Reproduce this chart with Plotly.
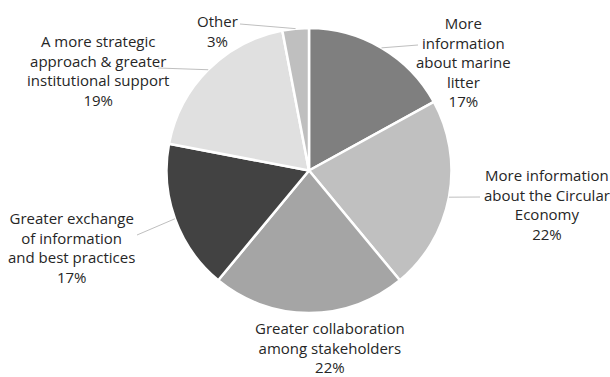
import math
import plotly.graph_objects as go

# Survey answers, in clockwise order starting at 12 o'clock
labels = [
    "More information about marine litter",
    "More information about the Circular Economy",
    "Greater collaboration among stakeholders",
    "Greater exchange of information and best practices",
    "A more strategic approach & greater institutional support",
    "Other",
]
shares = [17, 22, 22, 17, 19, 3]

# Wrapped label text as it is printed around the pie
label_lines = [
    ["More", "information", "about marine", "litter"],
    ["More information", "about the Circular", "Economy"],
    ["Greater collaboration", "among stakeholders"],
    ["Greater exchange", "of information", "and best practices"],
    ["A more strategic", "approach & greater", "institutional support"],
    ["Other"],
]

slice_colors = ["#7f7f7f", "#c0c0c0", "#a5a5a5", "#424242", "#e0e0e0", "#bfbfbf"]

W, H = 610, 377
CX, CY, R = 309, 170.5, 142.5

# Label block centres (px) and where each leader line ends (None = no line)
label_pos = [(463, 62), (547, 204), (330, 347), (71, 247), (98, 70), (217, 31)]
leader_end = [(418, 45), (480, 197), None, (137, 235), (158, 68), (240, 24)]


def px(x, y):
    return x / W, 1 - y / H


fig = go.Figure()
fig.add_trace(go.Pie(
    labels=labels,
    values=shares,
    sort=False,
    direction="clockwise",
    rotation=0,
    textinfo="none",
    hoverinfo="label+percent",
    marker=dict(colors=slice_colors, line=dict(color="white", width=2.5)),
    domain=dict(x=[(CX - R) / W, (CX + R) / W], y=[1 - (CY + R) / H, 1 - (CY - R) / H]),
    showlegend=False,
))

total = sum(shares)
cum = 0
shapes = []
annotations = []
for i, v in enumerate(shares):
    mid = (cum + v / 2) / total * 2 * math.pi
    cum += v
    ex = CX + R * math.sin(mid)
    ey = CY - R * math.cos(mid)
    if leader_end[i] is not None:
        x0, y0 = px(ex, ey)
        x1, y1 = px(*leader_end[i])
        shapes.append(dict(type="line", xref="paper", yref="paper",
                           x0=x0, y0=y0, x1=x1, y1=y1,
                           line=dict(color="#bfbfbf", width=1)))
    text = "<br>".join(label_lines[i] + [f"{v}%"])
    ax, ay = px(*label_pos[i])
    annotations.append(dict(x=ax, y=ay, xref="paper", yref="paper", text=text,
                            showarrow=False, align="center",
                            xanchor="center", yanchor="middle",
                            font=dict(family="Open Sans", size=15, color="#262626")))

fig.update_layout(
    width=W, height=H,
    margin=dict(l=0, r=0, t=0, b=0),
    paper_bgcolor="white",
    plot_bgcolor="white",
    shapes=shapes,
    annotations=annotations,
)

fig.write_html("out.html")
